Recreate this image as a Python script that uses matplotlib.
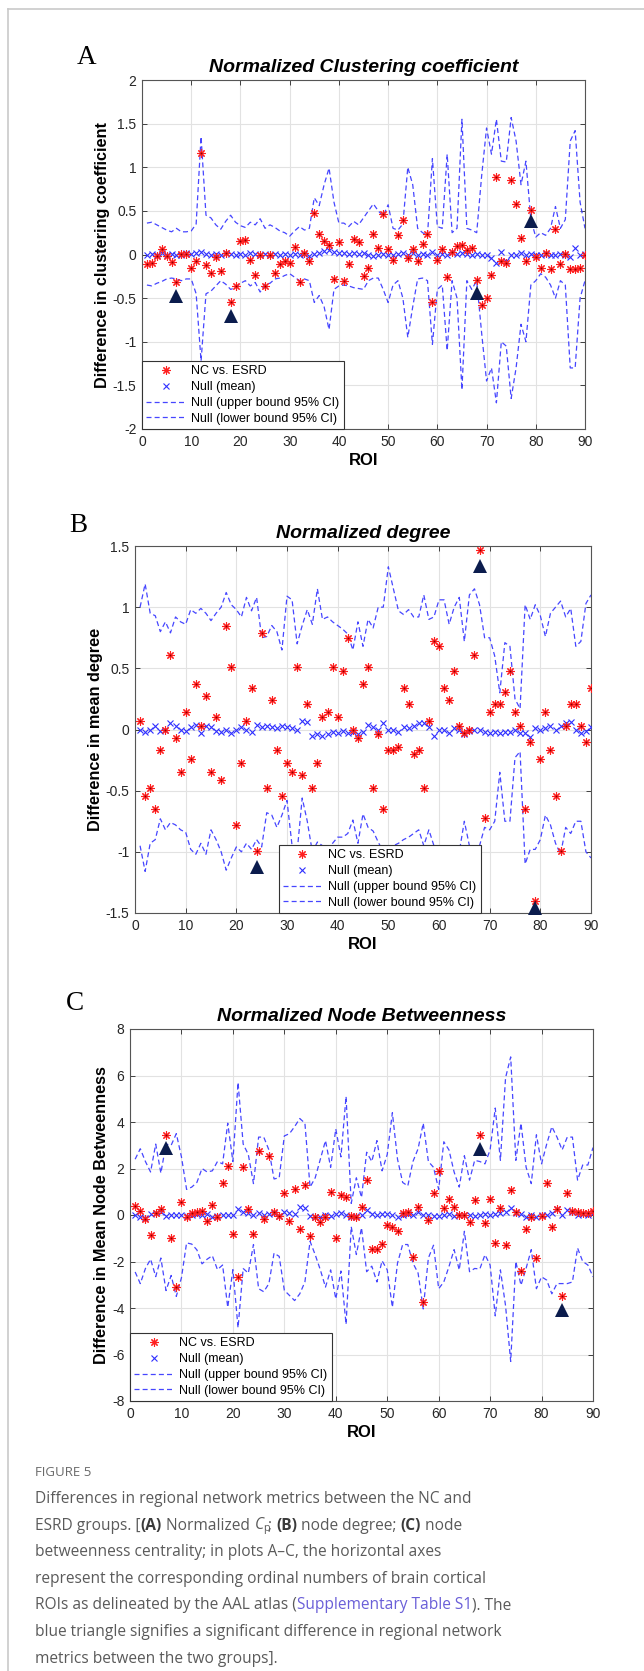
import numpy as np
import matplotlib
matplotlib.use("Agg")
import matplotlib.pyplot as plt
from matplotlib.ticker import MultipleLocator, FuncFormatter
from matplotlib.lines import Line2D

# ROI index (AAL atlas, 90 regions)
roi = np.arange(1, 91)

# ---------------- A: normalized clustering coefficient ----------------
cc_diff = [-0.11, -0.095, -0.02, 0.06, -0.02, -0.09, -0.31, 0.01, 0.01, -0.16,
           -0.08, 1.16, -0.12, -0.21, -0.03, -0.19, 0.02, -0.55, -0.36, 0.15,
           0.17, -0.06, -0.24, 0.0, -0.36, -0.01, -0.21, -0.11, -0.07, -0.1,
           0.09, -0.31, 0.02, -0.08, 0.47, 0.24, 0.15, 0.11, -0.28, 0.14,
           -0.3, -0.11, 0.18, 0.14, -0.25, -0.15, 0.23, 0.08, 0.46, 0.06,
           -0.06, 0.22, 0.4, -0.04, 0.06, -0.07, 0.12, 0.23, -0.54, -0.06,
           0.06, -0.26, 0.03, 0.1, 0.11, 0.05, 0.08, -0.29, -0.58, -0.5,
           -0.23, 0.89, -0.07, -0.1, 0.85, 0.58, 0.19, -0.08, 0.51, -0.03,
           -0.15, 0.02, -0.17, 0.29, -0.11, 0.01, -0.17, -0.17, -0.15, 0.0]
cc_null = [0.0, 0.01, -0.01, 0.02, 0.0, 0.01, -0.01, 0.0, 0.02, 0.01,
           0.02, 0.03, 0.01, 0.0, 0.01, 0.0, 0.02, 0.01, 0.0, 0.01,
           0.0, 0.02, 0.01, 0.0, 0.01, 0.0, 0.01, 0.0, 0.01, 0.0,
           0.01, 0.0, 0.01, -0.02, 0.01, 0.02, 0.04, 0.05, 0.03, 0.02,
           0.02, 0.01, 0.02, 0.01, 0.02, 0.0, -0.02, 0.0, 0.01, -0.01,
           0.0, 0.01, 0.02, 0.0, 0.02, -0.01, 0.01, -0.01, 0.03, 0.0,
           0.01, 0.0, 0.03, 0.01, 0.02, 0.01, 0.0, 0.01, -0.01, 0.0,
           -0.04, -0.1, 0.03, -0.08, -0.01, 0.0, 0.02, 0.0, 0.01, -0.01,
           0.0, 0.01, -0.01, 0.0, 0.01, -0.01, -0.03, 0.07, 0.0, 0.01]
cc_upper = [0.36, 0.37, 0.34, 0.31, 0.28, 0.26, 0.3, 0.26, 0.26, 0.27,
            0.35, 1.35, 0.45, 0.42, 0.34, 0.29, 0.38, 0.45, 0.37, 0.33,
            0.31, 0.37, 0.34, 0.41, 0.3, 0.34, 0.31, 0.27, 0.25, 0.21,
            0.27, 0.32, 0.28, 0.3, 0.65, 0.56, 0.8, 0.99, 0.6, 0.36,
            0.36, 0.32, 0.38, 0.34, 0.42, 0.5, 0.58, 0.5, 0.44, 0.57,
            0.3, 0.28, 0.35, 1.0, 0.8, 0.3, 0.25, 0.22, 1.1, 0.32,
            0.3, 1.15, 0.25, 0.3, 1.55, 0.3, 0.28, 0.25, 0.9, 1.45,
            1.15, 1.55, 1.07, 1.06, 1.57, 1.3, 0.8, 1.07, 0.4, 0.2,
            0.25, 0.22, 0.3, 0.55, 0.3, 0.4, 1.3, 1.42, 0.6, 0.3]
cc_lower = [-0.35, -0.36, -0.33, -0.31, -0.28, -0.27, -0.28, -0.3, -0.28, -0.28,
            -0.45, -1.22, -0.45, -0.42, -0.36, -0.3, -0.34, -0.4, -0.38, -0.33,
            -0.3, -0.36, -0.32, -0.43, -0.34, -0.33, -0.28, -0.27, -0.24, -0.22,
            -0.26, -0.3, -0.28, -0.3, -0.55, -0.47, -0.6, -0.86, -0.4, -0.36,
            -0.35, -0.36, -0.38, -0.39, -0.4, -0.3, -0.27, -0.27, -0.4, -0.55,
            -0.35, -0.3, -0.5, -0.95, -0.6, -0.28, -0.27, -0.3, -1.03, -0.4,
            -0.35, -1.1, -0.3, -0.5, -1.55, -0.3, -0.4, -0.3, -0.9, -1.45,
            -1.3, -1.7, -1.0, -1.05, -1.65, -1.3, -0.8, -1.0, -0.35, -0.3,
            -0.22, -0.26, -0.35, -0.5, -0.3, -0.35, -1.3, -1.3, -0.5, -0.3]
cc_sig_roi = [7, 18, 68, 79]
cc_sig_y = [-0.47, -0.7, -0.44, 0.38]

# ---------------- B: normalized degree ----------------
deg_diff = [0.07, -0.54, -0.48, -0.65, -0.17, 0.0, 0.61, -0.07, -0.35, 0.14,
            -0.24, 0.37, 0.03, 0.27, -0.35, 0.1, -0.41, 0.85, 0.51, -0.78,
            -0.27, 0.07, 0.34, -0.99, 0.79, -0.48, 0.24, -0.17, -0.54, -0.27,
            -0.35, 0.51, -0.37, 0.21, -0.48, -0.27, 0.1, 0.14, 0.51, 0.1,
            0.48, 0.75, 0.0, -0.07, 0.37, 0.51, -0.48, -0.04, -0.65, -0.17,
            -0.17, -0.14, 0.34, 0.21, -0.2, -0.17, -0.48, 0.07, 0.72, 0.68,
            0.34, 0.24, 0.48, 0.03, -0.03, 0.0, 0.61, 1.47, -0.72, 0.14,
            0.21, 0.21, 0.31, 0.48, 0.14, 0.03, -0.65, -0.1, -1.4, -0.24,
            0.14, -0.17, -0.54, -0.99, 0.03, 0.21, 0.21, 0.03, -0.1, 0.34]
deg_null = [0.0, -0.02, 0.0, 0.03, -0.01, 0.0, 0.05, 0.03, 0.0, -0.01,
            0.02, 0.04, -0.03, 0.03, 0.02, -0.01, -0.02, 0.0, -0.03, 0.0,
            0.02, 0.0, -0.02, 0.04, 0.02, 0.03, 0.02, 0.01, 0.03, 0.02,
            0.01, 0.0, 0.07, 0.06, -0.05, -0.04, -0.05, -0.04, -0.02, -0.03,
            -0.01, -0.03, -0.02, -0.04, -0.02, 0.04, 0.02, 0.0, 0.05, 0.0,
            0.0, -0.02, 0.02, 0.01, 0.03, 0.05, 0.05, 0.02, -0.05, 0.0,
            0.0, -0.03, 0.01, 0.0, -0.04, -0.01, 0.0, 0.0, -0.02, -0.03,
            -0.02, -0.03, -0.02, -0.02, 0.0, -0.03, -0.03, -0.06, 0.01, 0.0,
            0.01, 0.03, 0.0, 0.03, 0.05, 0.06, 0.0, -0.03, -0.01, 0.02]
deg_upper = [1.0, 1.19, 0.95, 0.93, 0.8, 0.88, 0.79, 0.92, 0.88, 0.86,
             0.98, 0.95, 0.99, 0.95, 0.89, 0.95, 1.0, 1.12, 1.02, 0.98,
             0.92, 1.08, 0.97, 1.08, 0.75, 0.76, 0.85, 0.8, 0.65, 1.09,
             1.06, 0.7, 0.85, 0.98, 0.86, 1.15, 0.9, 0.92, 0.88, 0.85,
             0.82, 0.78, 0.65, 0.88, 0.68, 0.9, 0.83, 1.0, 1.0, 1.33,
             1.15, 0.97, 0.94, 0.98, 0.92, 0.92, 1.1, 0.9, 0.92, 1.06,
             1.06, 0.86, 1.0, 1.08, 0.72, 1.1, 1.15, 1.02, 0.75, 0.75,
             0.6, 0.3, 0.71, 0.68, 0.25, 0.17, 1.02, 0.9, 1.02, 0.93,
             0.76, 0.95, 1.0, 1.05, 0.92, 0.99, 0.68, 0.72, 1.03, 1.1]
deg_lower = [-0.95, -1.16, -0.93, -0.9, -0.73, -0.82, -0.76, -0.78, -0.82, -0.84,
             -0.98, -1.02, -0.93, -1.02, -0.82, -0.9, -1.0, -1.15, -1.05, -0.96,
             -1.0, -0.93, -0.98, -0.9, -0.96, -0.68, -0.7, -0.8, -0.7, -0.58,
             -0.95, -1.0, -0.56, -0.75, -1.0, -0.92, -0.95, -0.98, -0.93, -0.88,
             -0.88, -0.85, -0.74, -0.93, -0.69, -0.8, -0.83, -0.92, -1.0, -0.95,
             -0.95, -0.93, -0.9, -0.88, -0.85, -0.82, -0.95, -0.82, -0.95, -1.0,
             -0.98, -0.96, -0.95, -1.0, -0.75, -0.95, -0.98, -0.95, -0.8, -0.82,
             -0.75, -0.35, -0.75, -0.75, -0.23, -0.18, -1.1, -0.98, -0.98, -0.9,
             -0.7, -0.78, -0.93, -1.02, -0.8, -0.85, -0.75, -0.75, -1.0, -1.05]
deg_sig_roi = [24, 68, 79]
deg_sig_y = [-1.12, 1.34, -1.46]

# ---------------- C: normalized node betweenness ----------------
bet_diff = [0.37, 0.19, -0.17, -0.85, 0.09, 0.26, 3.43, -0.97, -3.1, 0.55,
            -0.1, 0.09, 0.14, 0.19, -0.27, 0.43, -0.1, 1.37, 2.1, -0.8,
            -2.66, 2.06, 0.26, -0.8, 2.76, -0.17, 2.53, 0.14, -0.03, 0.95,
            -0.25, 1.1, -0.6, 1.31, -0.92, -0.1, -0.32, -0.1, 0.98, -0.97,
            0.84, 0.77, -0.03, -0.1, 0.36, 1.52, -1.48, -1.45, -1.23, -0.43,
            -0.53, -0.7, 0.09, 0.12, -1.82, 0.33, -3.75, -0.2, 0.95, 1.89,
            0.3, 0.69, 0.33, 0.0, 0.0, -0.29, 0.65, 3.46, -0.35, 0.67,
            -1.2, 0.29, -1.27, 1.08, 0.12, -2.41, -0.6, -0.1, -1.85, -0.03,
            1.39, -0.53, 0.26, -3.49, 0.95, 0.19, 0.14, 0.09, 0.09, 0.19]
bet_null = [0.0, -0.1, -0.15, 0.05, 0.1, 0.15, -0.05, 0.0, 0.0, 0.0,
            -0.05, 0.0, 0.05, 0.0, 0.05, -0.1, -0.05, 0.0, 0.0, 0.0,
            0.25, 0.15, 0.1, 0.0, 0.1, 0.0, 0.05, 0.1, -0.05, 0.15,
            0.1, 0.05, 0.35, 0.3, -0.05, -0.1, -0.1, 0.0, -0.05, 0.05,
            0.1, 0.0, -0.1, -0.05, 0.0, 0.2, 0.05, 0.0, 0.05, 0.05,
            0.0, -0.1, 0.0, 0.05, 0.0, 0.15, 0.0, 0.0, -0.05, -0.05,
            0.0, 0.05, -0.05, 0.0, 0.0, 0.0, -0.05, 0.0, 0.05, 0.0,
            0.05, 0.1, 0.15, 0.3, 0.1, 0.05, -0.1, 0.0, -0.1, 0.0,
            0.0, 0.1, 0.25, 0.0, 0.2, 0.15, 0.0, 0.05, 0.0, 0.1]
bet_upper = [2.4, 2.85, 2.3, 1.85, 3.05, 1.8, 3.05, 3.0, 3.5, 2.5,
             1.1, 1.2, 1.4, 2.0, 1.85, 1.9, 2.3, 2.2, 3.95, 2.3,
             5.7, 3.05, 2.6, 1.35, 3.35, 3.35, 2.8, 1.55, 1.6, 3.4,
             3.5, 3.8, 4.15, 3.95, 1.2, 1.6, 2.4, 3.2, 2.05, 3.7,
             2.5, 5.1, 0.5, 1.6, 0.75, 2.7, 2.3, 3.2, 1.9, 2.6,
             4.4, 2.4, 1.4, 1.25, 2.3, 2.85, 3.95, 2.3, 2.05, 1.1,
             3.15, 2.8, 1.85, 1.2, 2.55, 1.5, 2.35, 2.3, 2.2, 2.8,
             4.6, 2.35, 5.9, 6.8, 2.35, 3.95, 2.05, 1.35, 3.45, 2.2,
             3.05, 3.8, 3.35, 2.8, 3.35, 3.35, 1.5, 2.15, 2.15, 2.9]
bet_lower = [-2.45, -2.95, -2.3, -1.9, -2.65, -1.85, -3.25, -2.6, -3.5, -2.7,
             -1.2, -1.25, -1.5, -2.1, -1.9, -1.75, -2.35, -2.15, -3.97, -2.35,
             -4.85, -2.3, -2.5, -1.27, -3.17, -3.3, -2.95, -1.64, -1.78, -3.24,
             -3.46, -3.68, -3.39, -2.88, -1.13, -1.71, -2.36, -3.1, -2.36, -3.61,
             -2.41, -4.7, -0.5, -1.7, -0.55, -2.44, -2.2, -2.88, -1.97, -2.36,
             -3.97, -2.07, -1.27, -1.27, -2.07, -2.5, -4.04, -1.85, -1.3, -3.17,
             -2.88, -2.22, -1.49, -2.36, -0.7, -2.44, -2.3, -2.32, -1.71, -2.15,
             -4.34, -2.36, -3.9, -6.3, -2.0, -3.02, -2.29, -1.49, -3.17, -2.66,
             -2.8, -3.39, -2.95, -2.95, -2.95, -2.88, -1.42, -2.0, -2.15, -2.66]
bet_sig_roi = [7, 68, 84]
bet_sig_y = [2.9, 2.85, -4.1]

legend_labels = ["NC vs. ESRD", "Null (mean)",
                 "Null (upper bound 95% CI)", "Null (lower bound 95% CI)"]

W, H = 644, 1671
plt.rcParams["font.family"] = ["Liberation Sans", "DejaVu Sans"]
plt.rcParams["axes.unicode_minus"] = False
plt.rcParams["mathtext.fontset"] = "custom"
plt.rcParams["mathtext.rm"] = "Open Sans"
plt.rcParams["mathtext.it"] = "Open Sans:italic"

fig = plt.figure(figsize=(W / 100, H / 100), dpi=100)

RED = "#ff1f1f"
BLUE = "#2f2fff"
DASH = "#4646ff"
NAVY = "#0b1c4d"
STAR = (8, 2, 0)


def px_box(left, top, right, bottom):
    return [left / W, 1 - bottom / H, (right - left) / W, (bottom - top) / H]


def panel(box, diff, null, upper, lower, sig_x, sig_y, ylim, ystep,
          title, ylabel, leg_anchor):
    ax = fig.add_axes(box)
    ax.plot(roi, upper, color=DASH, lw=0.9, dashes=(4, 2.5), zorder=3)
    ax.plot(roi, lower, color=DASH, lw=0.9, dashes=(4, 2.5), zorder=3)
    ax.plot(roi, null, ls="none", marker="x", color=BLUE, ms=4.5, mew=0.8, zorder=4)
    ax.plot(roi, diff, ls="none", marker=STAR, color=RED, ms=6, mew=0.8, zorder=5)
    ax.plot(roi, diff, ls="none", marker="o", color="#8a0000", ms=1.3, mew=0, zorder=6)
    ax.plot(sig_x, sig_y, ls="none", marker="^", color=NAVY, ms=10.5, mew=0,
            zorder=7, clip_on=False)

    ax.set_xlim(0, 90)
    ax.set_ylim(*ylim)
    ax.xaxis.set_major_locator(MultipleLocator(10))
    ax.yaxis.set_major_locator(MultipleLocator(ystep))
    ax.yaxis.set_major_formatter(FuncFormatter(lambda v, p: f"{round(v, 2) + 0:g}"))
    ax.grid(True, color="#e2e2e2", lw=0.8)
    ax.set_axisbelow(True)
    ax.tick_params(direction="in", top=True, right=True, length=3.5, width=0.6,
                   labelsize=10, colors="#262626", pad=4)
    for sp in ax.spines.values():
        sp.set_color("#555555")
        sp.set_linewidth(0.8)
    ax.set_title(title, fontsize=14, fontweight="bold", style="italic", pad=6)
    ax.set_ylabel(ylabel, fontsize=11.7, fontweight="bold", labelpad=2)
    ax.set_xlabel("ROI", fontsize=12, fontweight="bold", labelpad=3)

    handles = [Line2D([], [], ls="none", marker=STAR, color=RED, ms=6, mew=0.8),
               Line2D([], [], ls="none", marker="x", color=BLUE, ms=4.5, mew=0.8),
               Line2D([], [], color=DASH, lw=0.9, dashes=(4, 2.5)),
               Line2D([], [], color=DASH, lw=0.9, dashes=(4, 2.5))]
    leg = ax.legend(handles, legend_labels, loc="lower left", bbox_to_anchor=(leg_anchor, 0),
                    borderaxespad=0, fontsize=9, handlelength=3.1, handletextpad=0.5,
                    labelspacing=0.3, borderpad=0.35, fancybox=False, framealpha=1,
                    edgecolor="#333333")
    leg.get_frame().set_linewidth(0.8)
    leg.set_zorder(10)
    return ax


panel(px_box(142, 80, 585, 429), cc_diff, cc_null, cc_upper, cc_lower,
      cc_sig_roi, cc_sig_y, (-2, 2), 0.5,
      "Normalized Clustering coefficient", "Difference in clustering coefficient", 0)
panel(px_box(135, 546, 591, 913), deg_diff, deg_null, deg_upper, deg_lower,
      deg_sig_roi, deg_sig_y, (-1.5, 1.5), 0.5,
      "Normalized degree", "Difference in mean degree", 0.315)
panel(px_box(130, 1029, 593, 1401), bet_diff, bet_null, bet_upper, bet_lower,
      bet_sig_roi, bet_sig_y, (-8, 8), 2,
      "Normalized Node Betweenness", "Difference in Mean Node Betweenness", 0)

# panel letters
for letter, x, y in [("A", 87, 58), ("B", 78, 525), ("C", 75, 1003)]:
    fig.text(x / W, 1 - y / H, letter, family="Liberation Serif", fontsize=19.5,
             ha="center", va="center")

# card border (top and left)
fig.add_artist(Line2D([8 / W, 1], [1 - 9 / H, 1 - 9 / H], color="#c9c9c9", lw=1.2))
fig.add_artist(Line2D([8 / W, 8 / W], [0, 1 - 9 / H], color="#c9c9c9", lw=1.2))

# caption
renderer = fig.canvas.get_renderer()


def text_width(s, **kw):
    a = fig.text(0, 0, "|" + s + "|", **kw)
    b = fig.text(0, 0, "||", **kw)
    w = a.get_window_extent(renderer).width - b.get_window_extent(renderer).width
    a.remove()
    b.remove()
    return w


CAP = dict(family="Open Sans", fontsize=11.2, color="#5a5a5a")
BOLD = dict(family="Open Sans", fontsize=11.2, color="#3a3a3a", fontweight="bold")
LINK = dict(family="Open Sans", fontsize=11.2, color="#6a5fd8")

caption = [
    [("Differences in regional network metrics between the NC and", CAP)],
    [("ESRD groups. [", CAP), ("(A)", BOLD), (" Normalized ", CAP),
     (r"$C_\mathregular{p}$", CAP), ("; ", CAP), ("(B)", BOLD), (" node degree; ", CAP),
     ("(C)", BOLD), (" node", CAP)],
    [("betweenness centrality; in plots A\u2013C, the horizontal axes", CAP)],
    [("represent the corresponding ordinal numbers of brain cortical", CAP)],
    [("ROIs as delineated by the AAL atlas (", CAP), ("Supplementary Table S1", LINK),
     ("). The", CAP)],
    [("blue triangle signifies a significant difference in regional network", CAP)],
    [("metrics between the two groups].", CAP)],
]

fig.text(35 / W, 1 - 1472 / H, "FIGURE 5", family="Open Sans", fontsize=9.5,
         color="#6a6a6a", va="center")
y0, dy = 1499, 26.6
for i, runs in enumerate(caption):
    x = 35.0
    y = 1 - (y0 + i * dy) / H
    for s, kw in runs:
        fig.text(x / W, y, s, va="center", **kw)
        x += text_width(s, **kw)

fig.savefig("out.png", dpi=100)
